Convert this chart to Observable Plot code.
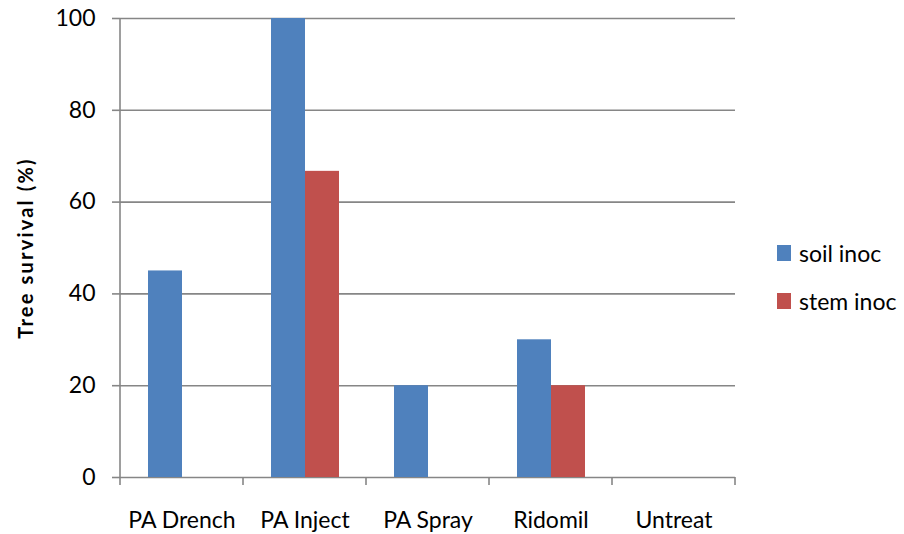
<!DOCTYPE html>
<html>
<head>
<meta charset="utf-8">
<script src="https://cdn.jsdelivr.net/npm/d3@7"></script>
<script src="https://cdn.jsdelivr.net/npm/@observablehq/plot@0.6"></script>
<style>
  body { margin: 0; background: #fff; font-family: Lato, "Open Sans", sans-serif; }
  #chart { position: relative; width: 904px; height: 534px; }
  .legend { position: absolute; left: 777px; top: 243px; }
  .legend .item { display: flex; align-items: center; height: 20px; margin-bottom: 28px; font-size: 23px; color: #000; }
  .legend .swatch { width: 14px; height: 16px; margin-right: 8px; }
</style>
</head>
<body>
<div id="chart"></div>
<script>
// Tree survival by treatment and inoculation method
const treatments = ["PA Drench", "PA Inject", "PA Spray", "Ridomil", "Untreat"];
const series = ["soil inoc", "stem inoc"];
const soilInoc = [45, 100, 20, 30, 0];
const stemInoc = [0, 66.7, 0, 20, 0];
const colors = ["#4F81BD", "#C0504D"];
const yTicks = [0, 20, 40, 60, 80, 100];

const rows = treatments.flatMap((t, i) => [
  {treatment: t, series: series[0], value: soilInoc[i]},
  {treatment: t, series: series[1], value: stemInoc[i]}
]);

const axisColor = "#868686";
const lineWidth = 1.6;

const plot = Plot.plot({
  width: 904,
  height: 534,
  marginLeft: 120,
  marginRight: 169,
  marginTop: 18,
  marginBottom: 57,
  style: {fontFamily: "Lato, 'Open Sans', sans-serif", fontSize: "23px", color: "#000", background: "#fff"},
  fx: {domain: treatments, padding: 0, label: null},
  x: {domain: series, paddingInner: 0, paddingOuter: 0.8, axis: null},
  y: {domain: [0, 100], label: null},
  color: {domain: series, range: colors},
  marks: [
    Plot.gridY(yTicks, {stroke: axisColor, strokeOpacity: 1, strokeWidth: lineWidth}),
    Plot.barY(rows, {fx: "treatment", x: "series", y: "value", fill: "series"}),
    Plot.axisY(yTicks, {
      tickSize: 8, tickPadding: 17, stroke: axisColor, strokeWidth: lineWidth,
      fontSize: 23, label: "Tree survival (%)", labelAnchor: "center", labelOffset: 102, labelArrow: "none"
    }),
    Plot.axisFx({anchor: "bottom", tickSize: 0, tickPadding: 34, fontSize: 23, label: null})
  ]
});

document.getElementById("chart").appendChild(plot);

// Axis line on the left and category boundary ticks under the baseline
const svg = d3.select(plot);
const fxs = plot.scale("fx");
const ys = plot.scale("y");
const fx = d3.scaleBand().domain(fxs.domain).range(fxs.range)
  .paddingInner(fxs.paddingInner ?? 0).paddingOuter(fxs.paddingOuter ?? 0);
const y = d3.scaleLinear().domain(ys.domain).range(ys.range);
const left = fx(treatments[0]);
const bounds = treatments.map(t => fx(t)).concat(fx(treatments[treatments.length - 1]) + fx.bandwidth());
const g = svg.append("g").attr("stroke", axisColor).attr("stroke-width", lineWidth);
g.append("line").attr("x1", left).attr("x2", left).attr("y1", y(0)).attr("y2", y(100));
g.selectAll(".b").data(bounds).join("line")
  .attr("x1", d => d).attr("x2", d => d).attr("y1", y(0)).attr("y2", y(0) + 8);

svg.selectAll('[aria-label="y-axis label"] text, [aria-label="y-axis label"]')
  .attr("font-weight", "bold").attr("font-size", 20).attr("letter-spacing", "2.2px");

// Legend
const legend = d3.select("#chart").append("div").attr("class", "legend");
const items = legend.selectAll(".item").data(series).join("div").attr("class", "item");
items.append("div").attr("class", "swatch").style("background", (d, i) => colors[i]);
items.append("span").text(d => d);
</script>
</body>
</html>
